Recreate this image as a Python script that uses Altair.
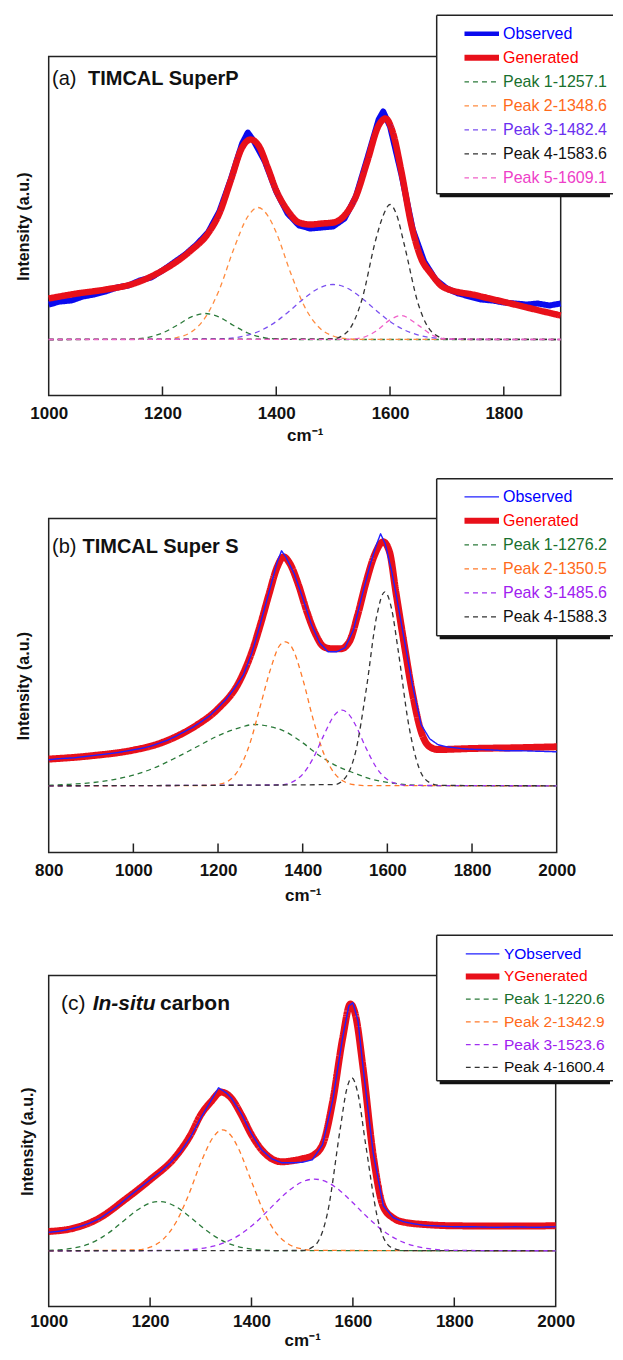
import altair as alt
import pandas as pd

FONT = "Liberation Sans"

# ---------------- (a) TIMCAL SuperP ----------------
A_TITLE = ["(a)", "TIMCAL SuperP"]
A_NAMES = ["Observed", "Generated", "Peak 1-1257.1", "Peak 2-1348.6",
           "Peak 3-1482.4", "Peak 4-1583.6", "Peak 5-1609.1"]
A_LINE_COLORS = ["#0a0aee", "#e8101a", "#2b7a3a", "#ff8c40", "#7a4ff0", "#333333", "#f060c8"]
A_LABEL_COLORS = ["#0000ff", "#ff0000", "#18702e", "#ff6a1a", "#6a30f0", "#111111", "#ee40c8"]
A_WIDTHS = [6, 6.5, 1.3, 1.3, 1.3, 1.3, 1.3]
A_LEG_WIDTHS = [4.5, 6, 1.3, 1.3, 1.3, 1.3, 1.3]
A_XLABELS = [1000, 1200, 1400, 1600, 1800]
A_XTICKS = [1200, 1400, 1600, 1800]

A_OBS_WN = [1000, 1020, 1040, 1060, 1080, 1100, 1120, 1140, 1160, 1180, 1200, 1220, 1240,
            1260, 1280, 1300, 1320, 1340, 1350, 1360, 1380, 1400, 1420, 1440, 1460, 1480,
            1500, 1520, 1540, 1560, 1580, 1588, 1600, 1620, 1640, 1660, 1680, 1700, 1720,
            1740, 1760, 1780, 1800, 1820, 1840, 1860, 1880, 1900]
A_OBS = [35, 38, 39, 43, 45, 48, 52, 54, 59, 62, 69, 77, 85, 95, 107, 128, 160, 196, 207,
         199, 178, 148, 126, 114, 111, 112, 113, 121, 143, 181, 220, 228, 213, 165, 110, 78,
         60, 51, 46, 43, 40, 39, 37, 36, 35, 36, 34, 36]
A_GEN_WN = [1000, 1050, 1100, 1150, 1200, 1250, 1280, 1300, 1320, 1340, 1355, 1370, 1385,
            1400, 1420, 1440, 1460, 1480, 1500, 1520, 1540, 1560, 1580, 1592, 1605, 1620,
            1637, 1654, 1672, 1695, 1753, 1812, 1870, 1900]
A_GEN = [41, 46, 50, 56, 69, 89, 106, 126, 159, 192, 200, 193, 172, 149, 129, 117, 115, 116,
         117, 124, 143, 178, 214, 221, 207, 168, 116, 82, 66, 52, 44, 36, 28, 24]
A_P1_WN = [1000, 1125, 1150, 1175, 1200, 1225, 1250, 1275, 1300, 1325, 1350, 1375, 1400, 1425, 1450, 1900]
A_P1 = [0, 0.1, 0.5, 2.2, 6.5, 14, 22.3, 26, 22.3, 14, 6.5, 2.2, 0.5, 0.1, 0, 0]
A_P2_WN = [1000, 1200, 1225, 1250, 1275, 1300, 1325, 1350, 1368, 1385, 1400, 1425, 1450, 1475, 1500, 1525, 1550, 1900]
A_P2 = [0, 0.4, 1.9, 7.3, 21.8, 50, 90, 123, 132, 124, 107, 67, 32.6, 12.2, 3.5, 0.8, 0.1, 0]
A_P3_WN = [1000, 1300, 1350, 1375, 1400, 1425, 1450, 1475, 1500, 1525, 1550, 1575, 1600, 1625, 1650, 1700, 1750, 1900]
A_P3 = [0, 0.6, 4.5, 9.6, 18, 29.4, 41.6, 51.3, 55, 51.3, 41.6, 29.4, 18, 9.6, 4.5, 0.6, 0, 0]
A_P4_WN = [1000, 1500, 1525, 1550, 1575, 1588, 1600, 1612, 1625, 1650, 1675, 1700, 1900]
A_P4 = [0, 0.8, 7.8, 38.7, 100, 124, 135, 124, 95, 34.8, 6.7, 0.7, 0]
A_P5_WN = [1000, 1525, 1550, 1575, 1600, 1619, 1650, 1675, 1700, 1900]
A_P5 = [0, 0.2, 1.7, 8.2, 19.6, 24, 14.1, 4.2, 0.6, 0]

# ---------------- (b) TIMCAL Super S ----------------
B_TITLE = ["(b)", "TIMCAL Super S"]
B_NAMES = ["Observed", "Generated", "Peak 1-1276.2", "Peak 2-1350.5",
           "Peak 3-1485.6", "Peak 4-1588.3"]
B_LINE_COLORS = ["#2020ff", "#e8101a", "#2b7a3a", "#ff7a2a", "#a030f0", "#333333"]
B_LABEL_COLORS = ["#0000ff", "#ff0000", "#18702e", "#ff6a1a", "#a020f0", "#111111"]
B_WIDTHS = [1.4, 7, 1.3, 1.3, 1.3, 1.3]
B_LEG_WIDTHS = [1.2, 6, 1.3, 1.3, 1.3, 1.3]
B_XLABELS = [800, 1000, 1200, 1400, 1600, 1800, 2000]
B_XTICKS = [1000, 1200, 1400, 1600, 1800]

B_OBS_WN = [800, 820, 840, 860, 880, 900, 920, 940, 960, 980, 1000, 1020, 1040, 1060, 1080,
            1100, 1120, 1140, 1160, 1180, 1200, 1220, 1240, 1260, 1280, 1300, 1320, 1340,
            1350, 1360, 1380, 1400, 1420, 1440, 1460, 1480, 1500, 1520, 1540, 1560, 1575,
            1584, 1595, 1610, 1620, 1640, 1660, 1680, 1700, 1720, 1740, 1760, 1780, 1800,
            1840, 1880, 1920, 1960, 2000]
B_OBS = [26, 27, 27.5, 28, 29, 30, 31, 32, 33, 34.5, 36, 37.5, 39.5, 42.5, 45.5, 49.5, 54,
         58.5, 64, 70, 78, 87, 98, 111, 133, 162, 193, 224, 235, 229, 212, 188, 162, 143, 134,
         134, 138, 156, 190, 222, 242, 252, 242, 215, 193, 146, 99, 61, 47, 41, 39, 38, 37,
         36.5, 36, 35, 35, 34.5, 34]
B_GEN_WN = [800, 900, 1000, 1050, 1100, 1150, 1200, 1250, 1280, 1300, 1320, 1340, 1355, 1370,
            1390, 1410, 1430, 1450, 1470, 1490, 1510, 1530, 1550, 1570, 1590, 1605, 1620,
            1640, 1660, 1680, 1700, 1720, 1800, 1900, 2000]
B_GEN = [26.7, 30, 35.7, 40.7, 49, 60.7, 77, 104, 134, 161, 191, 219, 229, 222, 201, 174,
         152, 139, 137, 137, 144, 171, 204, 231, 244, 234, 194, 141, 91, 54, 39, 36.3, 37.3,
         38, 39]
B_P1_WN = [800, 850, 900, 950, 1000, 1050, 1100, 1150, 1200, 1250, 1285, 1320, 1360, 1400,
           1440, 1480, 1520, 1560, 1600, 1650, 1700, 2000]
B_P1 = [0.5, 1.5, 3, 6, 10.7, 18, 28, 39, 50, 58, 61.3, 59.5, 54, 43, 30, 20, 13, 7, 3.5, 1, 0.2, 0]
B_P2_WN = [800, 1175, 1200, 1225, 1250, 1275, 1300, 1325, 1345, 1360, 1375, 1400, 1425, 1450, 1475, 1500, 1525, 1550, 2000]
B_P2 = [0, 0.3, 1.3, 5, 17, 42, 80, 118, 140, 144, 138, 107, 66, 32, 12.5, 3.8, 0.9, 0.2, 0]
B_P3_WN = [800, 1350, 1375, 1400, 1425, 1450, 1475, 1493, 1510, 1525, 1550, 1575, 1600, 1625, 1650, 2000]
B_P3 = [0, 0.9, 3.7, 11.6, 27.8, 50.7, 70.6, 75.7, 71, 60.6, 37.4, 17.6, 6.3, 1.7, 0.4, 0]
B_P4_WN = [800, 1475, 1500, 1525, 1550, 1575, 1594, 1610, 1625, 1650, 1675, 1700, 1725, 2000]
B_P4 = [0, 1.2, 7.7, 34, 96, 170, 194, 177, 137, 62, 17.6, 3.2, 0.4, 0]

# ---------------- (c) In-situ carbon ----------------
C_TITLE = ["(c)", "In-situ", "carbon"]
C_NAMES = ["YObserved", "YGenerated", "Peak 1-1220.6", "Peak 2-1342.9",
           "Peak 3-1523.6", "Peak 4-1600.4"]
C_LINE_COLORS = ["#2020ff", "#e8101a", "#2b7a3a", "#ff7a2a", "#a030f0", "#333333"]
C_LABEL_COLORS = ["#0000ff", "#ff0000", "#18702e", "#ff6a1a", "#a020f0", "#111111"]
C_WIDTHS = [1.4, 7, 1.3, 1.3, 1.3, 1.3]
C_LEG_WIDTHS = [1.2, 6, 1.3, 1.3, 1.3, 1.3]
C_XLABELS = [1000, 1200, 1400, 1600, 1800, 2000]
C_XTICKS = [1200, 1400, 1600, 1800]

C_OBS_WN = [1000, 1020, 1040, 1060, 1080, 1100, 1120, 1140, 1160, 1180, 1200, 1220, 1240,
            1260, 1280, 1300, 1320, 1335, 1350, 1360, 1380, 1400, 1420, 1440, 1460, 1480,
            1500, 1520, 1540, 1560, 1580, 1592, 1600, 1610, 1620, 1640, 1660, 1680, 1700,
            1720, 1740, 1760, 1780, 1800, 1840, 1880, 1920, 1960, 2000]
C_OBS = [18.5, 19.5, 21.5, 24, 27.5, 32, 39, 46.5, 55, 63, 71, 79, 88, 99, 114, 133, 150,
         163, 158, 153, 137, 117, 101, 92, 88, 88, 88.5, 91, 106, 150, 214, 245, 248, 230,
         184, 98, 45, 33, 29, 27, 25.5, 25, 24.5, 24, 24, 23.5, 24, 23.5, 24]
C_GEN_WN = [1000, 1050, 1100, 1150, 1200, 1250, 1280, 1300, 1320, 1340, 1360, 1380, 1400,
            1420, 1440, 1460, 1480, 1500, 1520, 1540, 1560, 1580, 1595, 1605, 1620, 1640,
            1660, 1680, 1700, 1750, 1800, 1900, 2000]
C_GEN = [19.3, 22.7, 32.7, 51, 71, 94, 116, 136, 149, 158.7, 152.7, 136, 116, 101, 92, 89,
         90, 92, 95, 106, 149, 213, 246.7, 236, 183, 96, 44, 32.7, 28.7, 26, 25, 24.7, 25]
C_P1_WN = [1000, 1025, 1050, 1075, 1100, 1125, 1150, 1175, 1200, 1218, 1250, 1275, 1300,
           1325, 1350, 1375, 1400, 1425, 1450, 2000]
C_P1 = [0.4, 1.1, 2.8, 6.1, 11.9, 20.4, 30.8, 40.8, 47.7, 49.3, 44.4, 35.4, 24.8, 15.3, 8.3, 4, 1.7, 0.6, 0.2, 0]
C_P2_WN = [1000, 1175, 1200, 1225, 1250, 1275, 1300, 1325, 1343, 1360, 1375, 1400, 1425, 1450, 1475, 1500, 1525, 2000]
C_P2 = [0, 1, 3.6, 11.1, 27.5, 54.7, 88, 114, 121, 115, 101.5, 69.3, 38.2, 17, 6.1, 1.8, 0.4, 0]
C_P3_WN = [1000, 1250, 1275, 1300, 1325, 1350, 1375, 1400, 1425, 1450, 1475, 1500, 1524,
           1550, 1575, 1600, 1625, 1650, 1675, 1700, 1725, 1750, 1775, 1800, 2000]
C_P3 = [0, 0.4, 1, 2.2, 4.6, 8.8, 15.4, 24.7, 36.4, 49.1, 60.7, 68.9, 71.7, 68.4, 59.9, 48,
        35.4, 23.9, 14.8, 8.4, 4.4, 2.1, 0.9, 0.4, 0]
C_P4_WN = [1000, 1500, 1525, 1550, 1575, 1588, 1598, 1610, 1625, 1650, 1675, 1700, 2000]
C_P4 = [0, 0.3, 5.3, 38, 122, 162, 173, 157, 107, 29.5, 3.5, 0.2, 0]

SOLID = [1, 0]
DASH = [5, 4]
LEGEND_SYMBOL = "M-5,0H5"   # horizontal line sample, length = 5 * sqrt(size)


def series_frame(name, kind, wn, vals, width):
    assert len(wn) == len(vals), name
    return pd.DataFrame({"wn": wn, "val": vals, "series": name, "kind": kind, "w": width})


def per_entry_expr(field, names, vals, default, quote):
    e = default
    for n, v in reversed(list(zip(names, vals))):
        vv = "'%s'" % v if quote else str(v)
        e = "datum.%s === '%s' ? %s : (%s)" % (field, n, vv, e)
    return e


def build_panel(P):
    W, H = P["W"], P["H"]
    names = P["names"]
    frames = [series_frame(names[0], "obs", P["obs_wn"], P["obs"], P["widths"][0]),
              series_frame(names[1], "gen", P["gen_wn"], P["gen"], P["widths"][1])]
    for i, (wn, v) in enumerate(P["peaks"]):
        frames.append(series_frame(names[2 + i], "peak", wn, v, P["widths"][2 + i]))
    df = pd.concat(frames, ignore_index=True)

    dashes = [SOLID, SOLID] + [DASH] * (len(names) - 2)
    f = P["legFont"]
    half = max(f, 12) / 2.0
    legx = P["symStart"] + P["sym"] / 2.0 - half
    leg = alt.Legend(orient="none", legendX=legx, legendY=P["row0"] - f / 2.0,
                     title=None, symbolType=LEGEND_SYMBOL, symbolSize=(P["sym"] / 5.0) ** 2,
                     clipHeight=f, labelFont=FONT, labelFontSize=f,
                     labelOffset=P["labStart"] - legx - 2 * half,
                     rowPadding=P["rowStep"] - f, padding=0, labelLimit=300,
                     symbolStrokeWidth={"expr": per_entry_expr("value", names, P["leg_widths"], "1.3", False)},
                     labelColor={"expr": per_entry_expr("label", names, P["label_colors"], "'#111111'", True)})
    xs = alt.Scale(domain=P["xdom"], nice=False, zero=False)
    ys = alt.Scale(domain=P["ydom"], nice=False, zero=False)
    xaxis = alt.Axis(values=P["xlabels"], ticks=False, tickSize=0, domain=False, grid=False,
                     format="d", labelFont=FONT, labelFontSize=17, labelFontWeight="bold",
                     labelColor="#111", labelPadding=P["labPad"], labelFlush=False,
                     labelOverlap=False, title="cm⁻¹", titleFont=FONT, titleFontSize=17,
                     titleFontWeight="bold", titleColor="#111", titlePadding=P["xtp"])
    yaxis = alt.Axis(labels=False, ticks=False, domain=False, grid=False,
                     title="Intensity (a.u.)", titleFont=FONT, titleFontSize=16,
                     titleFontWeight="bold", titleColor="#111", titlePadding=P["ytp"])
    enc = dict(
        x=alt.X("wn:Q", scale=xs, axis=xaxis),
        y=alt.Y("val:Q", scale=ys, axis=yaxis),
        color=alt.Color("series:N", scale=alt.Scale(domain=names, range=P["line_colors"]), legend=leg),
        strokeDash=alt.StrokeDash("series:N", scale=alt.Scale(domain=names, range=dashes), legend=leg),
        strokeWidth=alt.StrokeWidth("w:Q", scale=None),
    )
    peaks = alt.Chart(df[df.kind == "peak"]).mark_line(interpolate="monotone").encode(**enc)
    obs = alt.Chart(df[df.kind == "obs"]).mark_line(interpolate="linear", strokeJoin="round").encode(**enc)
    gen = alt.Chart(df[df.kind == "gen"]).mark_line(interpolate="monotone", strokeJoin="round").encode(**enc)
    lines = [peaks, obs, gen] if P["obs_below"] else [peaks, gen, obs]

    ticks = alt.Chart(pd.DataFrame({"t": P["xticks"]})).mark_rule(
        color="#222", strokeWidth=1.5).encode(
        x=alt.X("t:Q", scale=xs, axis=xaxis), y=alt.value(H), y2=alt.value(H - 9))

    texts = []
    for txt, x, weight, style, size in P["titles"]:
        texts.append(alt.Chart(pd.DataFrame({"s": [txt]})).mark_text(
            align="left", baseline="middle", font=FONT, fontSize=size, fontWeight=weight,
            fontStyle=style, color="#111").encode(
            text="s:N", x=alt.value(x), y=alt.value(P["title_y"])))

    L, T, B, R = P["box"]
    one = pd.DataFrame({"k": [0]})
    shadow = alt.Chart(one).mark_rect(color="#111").encode(
        x=alt.value(L + 3), x2=alt.value(R - 3), y=alt.value(T + 3), y2=alt.value(B + 3.5))
    box = alt.Chart(one).mark_rect(color="white").encode(
        x=alt.value(L), x2=alt.value(R), y=alt.value(T), y2=alt.value(B))
    top = alt.Chart(one).mark_rule(color="#222", strokeWidth=1.5).encode(
        x=alt.value(L), x2=alt.value(R), y=alt.value(T))
    left = alt.Chart(one).mark_rule(color="#222", strokeWidth=1.5).encode(
        x=alt.value(L), y=alt.value(T), y2=alt.value(B))
    bottom = alt.Chart(one).mark_rule(color="#222", strokeWidth=1.5).encode(
        x=alt.value(L), x2=alt.value(R), y=alt.value(B))

    return alt.layer(*lines, ticks, *texts, shadow, box, top, left, bottom).properties(
        width=W, height=H)


PA = dict(W=512, H=339, names=A_NAMES, line_colors=A_LINE_COLORS, label_colors=A_LABEL_COLORS,
          widths=A_WIDTHS, leg_widths=A_LEG_WIDTHS, obs_wn=A_OBS_WN, obs=A_OBS,
          gen_wn=A_GEN_WN, gen=A_GEN,
          peaks=[(A_P1_WN, A_P1), (A_P2_WN, A_P2), (A_P3_WN, A_P3), (A_P4_WN, A_P4), (A_P5_WN, A_P5)],
          xdom=[1000, 1900], ydom=[-56, 283], xlabels=A_XLABELS, xticks=A_XTICKS,
          labPad=10, xtp=6, ytp=17, symStart=397.3, labStart=454.3, row0=-22.7, rowStep=24,
          sym=53, legFont=16, obs_below=True, box=(388, -41.2, 137.3, 564.3), title_y=22.3,
          titles=[(A_TITLE[0], 3.3, "normal", "normal", 20), (A_TITLE[1], 39.3, "bold", "normal", 20)])
PB = dict(W=508, H=334, names=B_NAMES, line_colors=B_LINE_COLORS, label_colors=B_LABEL_COLORS,
          widths=B_WIDTHS, leg_widths=B_LEG_WIDTHS, obs_wn=B_OBS_WN, obs=B_OBS,
          gen_wn=B_GEN_WN, gen=B_GEN,
          peaks=[(B_P1_WN, B_P1), (B_P2_WN, B_P2), (B_P3_WN, B_P3), (B_P4_WN, B_P4)],
          xdom=[800, 2000], ydom=[-66.7, 267.3], xlabels=B_XLABELS, xticks=B_XTICKS,
          labPad=10, xtp=9, ytp=17, symStart=397.3, labStart=454.3, row0=-21.7, rowStep=24,
          sym=53, legFont=16, obs_below=False, box=(388, -39.7, 117.3, 564.3), title_y=28.3,
          titles=[(B_TITLE[0], 3.3, "normal", "normal", 20), (B_TITLE[1], 33.8, "bold", "normal", 20)])
PC = dict(W=507, H=331, names=C_NAMES, line_colors=C_LINE_COLORS, label_colors=C_LABEL_COLORS,
          widths=C_WIDTHS, leg_widths=C_LEG_WIDTHS, obs_wn=C_OBS_WN, obs=C_OBS,
          gen_wn=C_GEN_WN, gen=C_GEN,
          peaks=[(C_P1_WN, C_P1), (C_P2_WN, C_P2), (C_P3_WN, C_P3), (C_P4_WN, C_P4)],
          xdom=[1000, 2000], ydom=[-55.7, 275.3], xlabels=C_XLABELS, xticks=C_XTICKS,
          labPad=7, xtp=3, ytp=13, symStart=399, labStart=455.3, row0=-21.7, rowStep=21.2,
          sym=51.7, legFont=15.5, obs_below=False, box=(388, -40.2, 105.3, 564.3), title_y=28.3,
          titles=[(C_TITLE[0], 12.3, "normal", "normal", 21), (C_TITLE[1], 44, "bold", "italic", 21),
                  (C_TITLE[2], 111.3, "bold", "normal", 21)])

chart = alt.vconcat(build_panel(PA), build_panel(PB), build_panel(PC),
                    spacing=123, bounds="flush").resolve_scale(
    x="independent", y="independent", color="independent",
    strokeDash="independent").properties(
    padding={"left": 6.7, "top": 5.5, "right": 0, "bottom": 0}).configure_view(
    stroke="#222", strokeWidth=1.5)

chart.save("out.html", embed_options={"renderer": "svg", "actions": False})
